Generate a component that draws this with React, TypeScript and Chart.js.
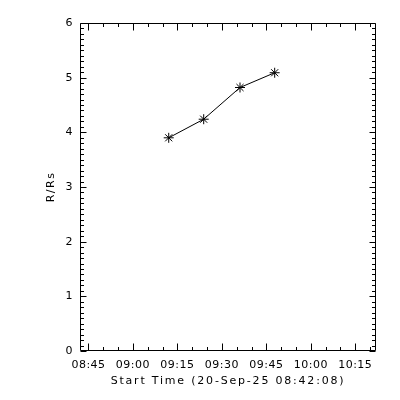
import React, { useEffect, useRef } from "react";
import { Chart, registerables } from "chart.js";

Chart.register(...registerables);

const startLabel = "Start Time (20-Sep-25 08:42:08)";
const yTitle = "R/Rs";
// data: times (HH:MM:SS) and heights (R/Rs)
const times = ["09:12:04", "09:23:52", "09:36:07", "09:47:49"];
const heights = [3.9, 4.24, 4.82, 5.09];
// x axis range
const xMinTime = "08:42:08";
const xMaxTime = "10:22:00";
const xTickLabels = ["08:45", "09:00", "09:15", "09:30", "09:45", "10:00", "10:15"];
const yTickValues = [0, 1, 2, 3, 4, 5, 6];

const toMin = (s: string) => {
  const p = s.split(":").map(Number);
  return p[0] * 60 + p[1] + (p[2] || 0) / 60;
};
const fmt = (m: number) => {
  const h = Math.floor(m / 60);
  const mm = Math.round(m - h * 60);
  return String(h).padStart(2, "0") + ":" + String(mm).padStart(2, "0");
};

const spacingPlugin = {
  id: "titleSpacing",
  afterLayout(chart: any) {
    const sp: Record<string, string> = { x: "1.8px", y: "1.5px" };
    for (const id of ["x", "y"]) {
      const s = chart.scales[id];
      if (!s || s.__patched) continue;
      const origT = s.drawTitle;
      s.drawTitle = function (...args: any[]) {
        const ctx = this.ctx;
        ctx.save();
        ctx.letterSpacing = sp[id];
        origT.apply(this, args);
        ctx.restore();
      };
      const origL = s.drawLabels;
      s.drawLabels = function (...args: any[]) {
        const ctx = this.ctx;
        ctx.save();
        ctx.letterSpacing = "0.5px";
        origL.apply(this, args);
        ctx.restore();
      };
      s.__patched = true;
    }
  },
};

const tickPlugin = {
  id: "idlTicks",
  afterDraw(chart: any) {
    const { ctx, chartArea: a, scales } = chart;
    const xs = scales.x, ys = scales.y;
    ctx.save();
    ctx.strokeStyle = "#000";
    ctx.lineWidth = 1;
    const L = a.left + 0.5, R = a.right - 0.5, T = a.top + 0.5, B = a.bottom - 0.5;
    ctx.beginPath();
    ctx.rect(L, T, R - L, B - T);
    const xMaj = xTickLabels.map(toMin);
    const x0 = xs.min, x1 = xs.max;
    for (let m = Math.ceil(x0 / 5) * 5; m <= x1; m += 5) {
      const isMaj = xMaj.some((v) => Math.abs(v - m) < 1e-6);
      const len = isMaj ? 7 : 3.5;
      const px = Math.round(xs.getPixelForValue(m)) + 0.5;
      ctx.moveTo(px, B); ctx.lineTo(px, B - len);
      ctx.moveTo(px, T); ctx.lineTo(px, T + len);
    }
    for (let i = 0; i <= 60; i++) {
      const v = i / 10;
      const isMaj = i % 10 === 0;
      const len = isMaj ? 6 : 3.5;
      const py = Math.round(ys.getPixelForValue(v)) + 0.5;
      ctx.moveTo(L, py); ctx.lineTo(L + len, py);
      ctx.moveTo(R, py); ctx.lineTo(R - len, py);
    }
    ctx.stroke();
    ctx.restore();
  },
};

export default function App() {
  const ref = useRef<HTMLCanvasElement>(null);
  useEffect(() => {
    if (!ref.current) return;
    Chart.defaults.font.family = "'DejaVu Sans', sans-serif";
    Chart.defaults.font.size = 11;
    Chart.defaults.color = "#000";
    const pts = times.map((t, i) => ({ x: toMin(t), y: heights[i] }));
    const chart = new Chart(ref.current, {
      type: "scatter",
      data: {
        datasets: [
          {
            data: pts,
            showLine: true,
            borderColor: "#000",
            borderWidth: 1,
            backgroundColor: "#000",
            pointStyle: "star",
            pointRadius: 5,
            pointBorderWidth: 1,
            pointBorderColor: "#000",
            tension: 0,
          },
        ],
      },
      options: {
        responsive: false,
        animation: false,
        events: [],
        plugins: { legend: { display: false }, tooltip: { enabled: false } },
        layout: { padding: { left: 0, right: 24, top: 23, bottom: 0 } },
        scales: {
          x: {
            type: "linear",
            min: toMin(xMinTime),
            max: toMin(xMaxTime),
            grid: { display: false, drawTicks: false },
            border: { display: false },
            afterBuildTicks: (s: any) => {
              s.ticks = xTickLabels.map((l) => ({ value: toMin(l) }));
            },
            afterFit: (s: any) => {
              s.height = 49;
            },
            ticks: {
              autoSkip: false,
              maxRotation: 0,
              padding: 8,
              callback: (v: any) => fmt(Number(v)),
            },
            title: {
              display: true,
              text: startLabel,
              padding: { top: 0, bottom: 12 },
            },
          },
          y: {
            type: "linear",
            min: 0,
            max: 6,
            grid: { display: false, drawTicks: false },
            border: { display: false },
            afterBuildTicks: (s: any) => {
              s.ticks = yTickValues.map((v) => ({ value: v }));
            },
            afterFit: (s: any) => {
              s.width = 80;
            },
            ticks: { padding: 7, callback: (v: any) => String(v) },
            title: {
              display: true,
              text: yTitle,
              padding: { top: 45, bottom: 0 },
            },
          },
        },
      },
      plugins: [spacingPlugin, tickPlugin],
    });
    return () => chart.destroy();
  }, []);
  return (
    <div style={{ position: "absolute", left: 0, top: 0, width: 400, height: 400, background: "#fff" }}>
      <canvas ref={ref} width={400} height={400} />
    </div>
  );
}
